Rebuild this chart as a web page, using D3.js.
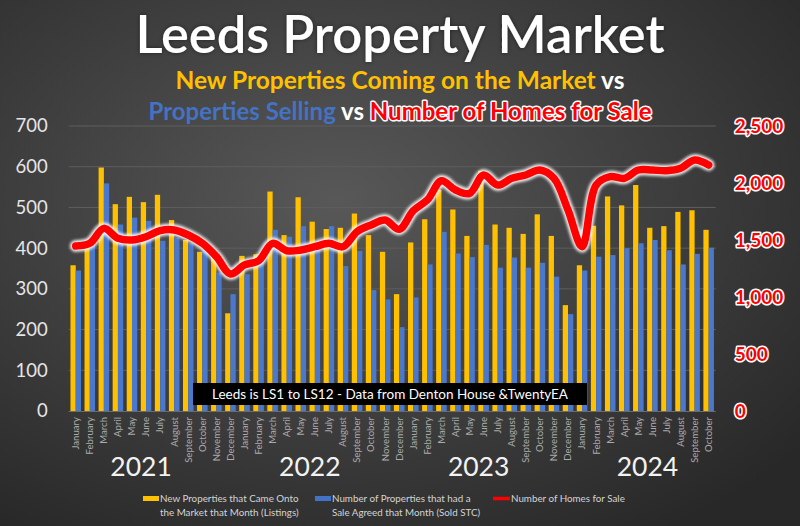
<!DOCTYPE html>
<html><head><meta charset="utf-8">
<script src="https://cdnjs.cloudflare.com/ajax/libs/d3/7.8.5/d3.min.js"></script>
<style>html,body{margin:0;padding:0;background:#3a3a3a;overflow:hidden}</style>
</head>
<body><svg id="c" width="800" height="526"></svg>
<script>
const monthNames = ["January","February","March","April","May","June","July","August","September","October","November","December"];
const years = ["2021","2022","2023","2024"];
const listings = [
  358,410,598,508,526,513,531,469,420,391,379,240,
  381,385,539,432,525,465,447,450,485,432,391,287,
  414,471,543,495,430,590,458,450,435,483,430,260,
  358,455,527,505,555,450,454,489,493,445];
const soldSTC = [
  345,415,559,458,475,467,418,425,412,395,340,287,
  336,367,445,428,454,400,454,356,393,297,274,206,
  279,360,440,387,378,408,352,377,352,364,330,238,
  345,379,383,400,412,420,395,360,386,401];
const homesForSale = [
  1447,1471,1602,1515,1500,1529,1582,1588,1544,1471,1354,1202,
  1281,1318,1471,1406,1412,1441,1471,1441,1573,1632,1675,1594,
  1757,1851,2020,1939,1909,2070,1982,2041,2070,2114,2041,1763,
  1441,1982,2056,2041,2114,2114,2108,2129,2202,2158];
const leftTicks = [0,100,200,300,400,500,600,700];
const rightTicks = [0,500,1000,1500,2000,2500];
const seriesNames = ["New Properties that Came Onto|the Market that Month (Listings)","Number of Properties that had a|Sale Agreed that Month (Sold STC)","Number of Homes for Sale"];

const categories = [];
years.forEach(y => monthNames.forEach(m => { if (categories.length < listings.length) categories.push({key: y + "-" + m, month: m, year: y}); }));
const data = categories.map((c, i) => ({...c, listings: listings[i], sold: soldSTC[i], homes: homesForSale[i]}));

const svg = d3.select("#c");
const defs = svg.append("defs");
const bg = defs.append("radialGradient").attr("id","bg").attr("cx","42%").attr("cy","38%").attr("r","75%");
bg.append("stop").attr("offset","0%").attr("stop-color","#585858");
bg.append("stop").attr("offset","100%").attr("stop-color","#282828");
const blur = defs.append("filter").attr("id","glow").attr("x","-10%").attr("y","-10%").attr("width","120%").attr("height","120%");
blur.append("feGaussianBlur").attr("stdDeviation",1.6);
const tglow = defs.append("filter").attr("id","tglow").attr("x","-10%").attr("y","-30%").attr("width","120%").attr("height","160%");
tglow.append("feGaussianBlur").attr("in","SourceAlpha").attr("stdDeviation",2).attr("result","b");
tglow.append("feFlood").attr("flood-color","#000").attr("flood-opacity",0.5);
tglow.append("feComposite").attr("in2","b").attr("operator","in").attr("result","s");
const mg = tglow.append("feMerge"); mg.append("feMergeNode").attr("in","s"); mg.append("feMergeNode").attr("in","SourceGraphic");

svg.append("rect").attr("width",800).attr("height",526).attr("fill","url(#bg)");

const L = 68.7, R = 715.7, T = 126, B = 411;
const x = d3.scaleBand().domain(data.map(d => d.key)).range([L, R]).paddingInner(0.25).paddingOuter(0.125);
const xs = d3.scaleBand().domain(["listings","sold"]).range([0, x.bandwidth()]);
const yL = d3.scaleLinear().domain([0,700]).range([B, T]);
const yR = d3.scaleLinear().domain([0,2500]).range([B, T]);
const font = "Lato, 'Open Sans', sans-serif";

// grid
svg.append("g").selectAll("line").data(leftTicks.filter(t => t > 0)).join("line")
  .attr("x1", L).attr("x2", R).attr("y1", d => yL(d)).attr("y2", d => yL(d))
  .attr("stroke", "#5e5e5e").attr("stroke-width", 1);

// bars
const colors = {listings: "#FFC000", sold: "#4A78CC"};
const g = svg.append("g");
["listings","sold"].forEach(s => {
  g.selectAll(null).data(data).join("rect")
    .attr("x", d => x(d.key) + xs(s))
    .attr("width", xs.bandwidth())
    .attr("y", d => yL(d[s]))
    .attr("height", d => B - yL(d[s]))
    .attr("fill", colors[s]);
});
svg.append("line").attr("x1", L).attr("x2", R).attr("y1", B + 0.5).attr("y2", B + 0.5).attr("stroke", "#6b6b6b");

// line
const line = d3.line().x(d => x(d.key) + x.bandwidth() / 2).y(d => yR(d.homes)).curve(d3.curveCatmullRom.alpha(0.5));
svg.append("path").datum(data).attr("d", line).attr("fill","none").attr("stroke","#ffffff").attr("stroke-width",11.5)
  .attr("stroke-linecap","round").attr("stroke-linejoin","round").attr("filter","url(#glow)").attr("opacity",0.95);
svg.append("path").datum(data).attr("d", line).attr("fill","none").attr("stroke","#ff0000").attr("stroke-width",7.5)
  .attr("stroke-linecap","round").attr("stroke-linejoin","round");

// left axis
const ax = svg.append("g").attr("transform", `translate(${L},0)`)
  .call(d3.axisLeft(yL).tickValues(leftTicks).tickSize(0).tickPadding(21));
ax.select(".domain").remove();
ax.selectAll("text").attr("font-family", font).attr("font-size", 18.5).attr("fill", "#e6e6e6");

// right axis
const ar = svg.append("g").attr("transform", `translate(${R},0)`)
  .call(d3.axisRight(yR).tickValues(rightTicks).tickSize(0).tickPadding(19).tickFormat(d3.format(",")));
ar.select(".domain").remove();
ar.selectAll("text").attr("font-family", font).attr("font-size", 19).attr("font-weight", 700)
  .attr("fill", "#ff0000").attr("stroke", "#ffffff").attr("stroke-width", 3.2).attr("stroke-linejoin", "round")
  .attr("paint-order", "stroke");

// bottom axis
const ab = svg.append("g").attr("transform", `translate(0,${B})`)
  .call(d3.axisBottom(x).tickSize(0).tickFormat(k => data.find(d => d.key === k).month));
ab.select(".domain").remove();
ab.selectAll("text").attr("font-family", font).attr("font-size", 9.6).attr("fill", "#ababab")
  .attr("text-anchor", "end").attr("transform", "rotate(-90)").attr("x", -6).attr("y", 0).attr("dy", "0.35em");

// year labels
svg.append("g").selectAll("text").data(years).join("text")
  .attr("x", y => x(y + "-June") + x.bandwidth() / 2 - 5).attr("y", 476)
  .attr("text-anchor", "middle").attr("font-family", font).attr("font-size", 26.5).attr("fill", "#f2f2f2").text(y => y);

// annotation
svg.append("rect").attr("x", 193).attr("y", 383).attr("width", 394).attr("height", 22).attr("fill", "#000");
svg.append("text").attr("x", 390).attr("y", 399).attr("text-anchor", "middle").attr("font-family", font)
  .attr("font-size", 13.5).attr("fill", "#ffffff").text("Leeds is LS1 to LS12 - Data from Denton House &TwentyEA");

// titles
svg.append("text").attr("x", 400).attr("y", 52.5).attr("text-anchor", "middle").attr("font-family", font)
  .attr("font-size", 52.5).attr("font-weight", 600).attr("fill", "#ffffff").attr("filter", "url(#tglow)").text("Leeds Property Market");
const s1 = svg.append("text").attr("x", 400).attr("y", 89).attr("text-anchor", "middle").attr("font-family", font)
  .attr("font-size", 24.5).attr("font-weight", 700);
s1.append("tspan").attr("fill", "#FFC000").text("New Properties Coming on the Market");
s1.append("tspan").attr("fill", "#ffffff").text(" vs");
const s2 = svg.append("text").attr("x", 400).attr("y", 120).attr("text-anchor", "middle").attr("font-family", font)
  .attr("font-size", 24).attr("font-weight", 700);
s2.append("tspan").attr("fill", "#4472C4").text("Properties Selling");
s2.append("tspan").attr("fill", "#ffffff").text(" vs ");
s2.append("tspan").attr("fill", "#ff0000").attr("stroke", "#ffffff").attr("stroke-width", 3).attr("stroke-linejoin","round")
  .attr("paint-order", "stroke").text("Number of Homes for Sale");

// legend
const legend = [
  {x: 143, type: "rect", color: "#FFC000", label: seriesNames[0]},
  {x: 315, type: "rect", color: "#4472C4", label: seriesNames[1]},
  {x: 493, type: "line", color: "#ff0000", label: seriesNames[2]}
];
const lg = svg.append("g").selectAll("g").data(legend).join("g").attr("transform", d => `translate(${d.x},0)`);
lg.filter(d => d.type === "rect").append("rect").attr("x", 0).attr("y", 496).attr("width", 16).attr("height", 5).attr("fill", d => d.color);
lg.filter(d => d.type === "line").append("line").attr("x1", 0).attr("x2", 17).attr("y1", 498.5).attr("y2", 498.5).attr("stroke", d => d.color).attr("stroke-width", 3.5);
lg.each(function(d) {
  const t = d3.select(this).append("text").attr("font-family", font).attr("font-size", 9.8).attr("fill", "#d4d4d4");
  d.label.split("|").forEach((ln, i) => t.append("tspan").attr("x", d.type === "line" ? 18 : 17).attr("y", 502 + i * 13.5).text(ln));
});
</script>
</body></html>
